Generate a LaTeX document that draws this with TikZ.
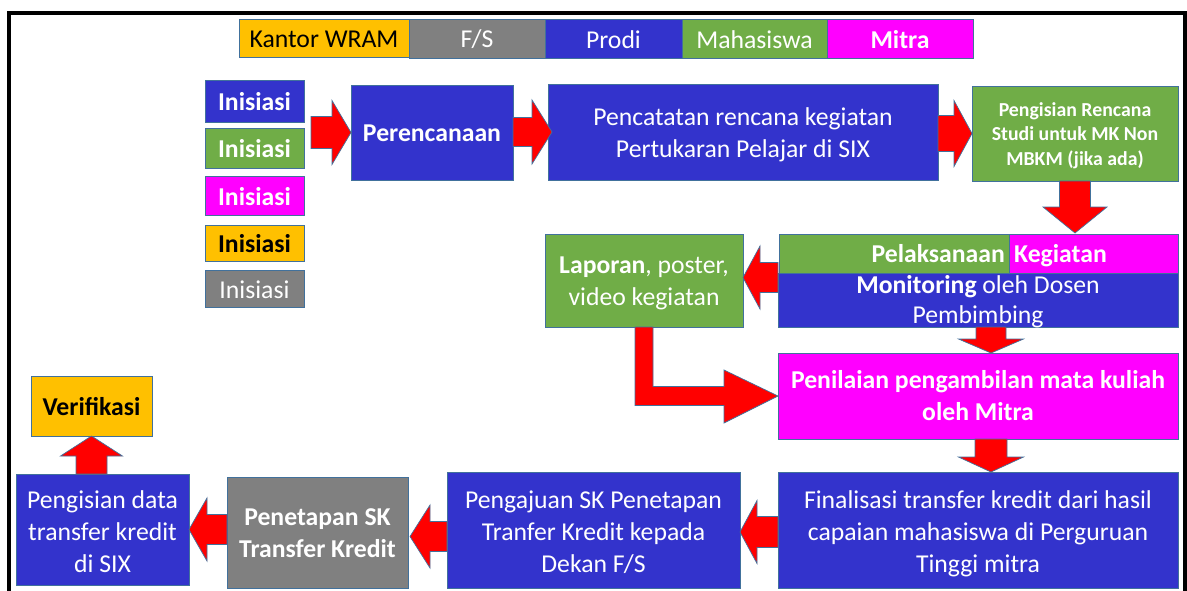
\documentclass[tikz,border=0pt]{standalone}
\usepackage{fontspec}
\setmainfont{Carlito}
\usetikzlibrary{calc}
\definecolor{cblue}{HTML}{3333CC}
\definecolor{cgreen}{HTML}{70AD47}
\definecolor{cmag}{HTML}{FF00FF}
\definecolor{corange}{HTML}{FFC000}
\definecolor{cgray}{HTML}{808080}
\definecolor{cedge}{HTML}{41719C}
\definecolor{cred}{HTML}{FF0000}
\tikzset{
  box/.style={draw=cedge, line width=0.9pt, inner sep=0pt, outer sep=0pt},
  txt/.style={align=center, text=white, inner sep=0pt, font=\fontsize{25.7}{32}\selectfont},
  dark/.style={text=black},
  small/.style={font=\fontsize{19.8}{24.5}\selectfont},
  wtxt/.style={text=white, inner sep=0pt, font=\fontsize{25.7}{32}\selectfont},
  arr/.style={fill=cred, draw=cedge, line width=0.7pt, line join=miter},
}
% box: name, fill, x1, y1, x2, y2, text style, text shift down, text
\newcommand\bx[9]{\node[box, fill=#2, minimum width={#5-#3}, minimum height={#6-#4}] (#1) at ({(#3+#5)/2},{(#4+#6)/2}) {};
  \node[txt, #7] (#1-t) at ($(#1.center)+(0,#8)$) {#9};}
% block arrows: start, tip, shaft half, head half, head length
\newcommand\arrR[5]{\draw[arr] let \p1=(#1),\p2=(#2) in (\x1,\y2+#3pt) -- (\x2-#5pt,\y2+#3pt) -- (\x2-#5pt,\y2+#4pt) -- (\x2,\y2) -- (\x2-#5pt,\y2-#4pt) -- (\x2-#5pt,\y2-#3pt) -- (\x1,\y2-#3pt) -- cycle;}
\newcommand\arrL[5]{\draw[arr] let \p1=(#1),\p2=(#2) in (\x1,\y2+#3pt) -- (\x2+#5pt,\y2+#3pt) -- (\x2+#5pt,\y2+#4pt) -- (\x2,\y2) -- (\x2+#5pt,\y2-#4pt) -- (\x2+#5pt,\y2-#3pt) -- (\x1,\y2-#3pt) -- cycle;}
\newcommand\arrD[5]{\draw[arr] let \p1=(#1),\p2=(#2) in (\x2-#3pt,\y1) -- (\x2-#3pt,\y2+#5pt) -- (\x2-#4pt,\y2+#5pt) -- (\x2,\y2) -- (\x2+#4pt,\y2+#5pt) -- (\x2+#3pt,\y2+#5pt) -- (\x2+#3pt,\y1) -- cycle;}
\newcommand\arrU[5]{\draw[arr] let \p1=(#1),\p2=(#2) in (\x2-#3pt,\y1) -- (\x2-#3pt,\y2-#5pt) -- (\x2-#4pt,\y2-#5pt) -- (\x2,\y2) -- (\x2+#4pt,\y2-#5pt) -- (\x2+#3pt,\y2-#5pt) -- (\x2+#3pt,\y1) -- cycle;}
\begin{document}
\begin{tikzpicture}[x=1pt,y=-1pt]
\useasboundingbox (0,0) rectangle (1187,590);
\fill[white] (0,0) rectangle (1187,590);
% frame
\draw[line width=4pt] (9,600) -- (9,13) -- (1185,13) -- (1185,600);
% legend
\bx{leg1}{corange}{239}{19}{409}{57}{dark}{1}{Kantor WRAM}
\bx{leg2}{cgray}{409}{19}{545}{58}{}{1}{F/S}
\bx{leg3}{cblue}{545}{19}{682}{58}{}{1}{Prodi}
\bx{leg4}{cgreen}{682}{19}{827}{58}{}{1}{Mahasiswa}
\bx{leg5}{cmag}{827}{19}{973}{58}{}{1}{\textbf{Mitra}}
% inisiasi
\bx{ini1}{cblue}{205}{80}{304}{122}{}{1}{\textbf{Inisiasi}}
\bx{ini2}{cgreen}{205}{128}{304}{168}{}{1}{\textbf{Inisiasi}}
\bx{ini3}{cmag}{205}{176}{304}{215}{}{1}{\textbf{Inisiasi}}
\bx{ini4}{corange}{205}{225}{304}{261}{dark}{1}{\textbf{Inisiasi}}
\bx{ini5}{cgray}{205}{270}{304}{307}{}{1}{Inisiasi}
% top row
\bx{per}{cblue}{351}{85}{513}{180}{}{1}{\textbf{Perencanaan}}
\bx{pct}{cblue}{548}{84}{938}{180}{}{3}{Pencatatan rencana kegiatan\\Pertukaran Pelajar di SIX}
\bx{pgr}{cgreen}{972}{86}{1178}{181}{small}{2}{\textbf{Pengisian Rencana}\\\textbf{Studi untuk MK Non}\\\textbf{MBKM (jika ada)}}
% pelaksanaan
\node[box, fill=cgreen, minimum width=230, minimum height=39] (pelG) at (894,253.5) {};
\node[box, fill=cmag, minimum width=169, minimum height=39] (pelM) at (1093.5,253.5) {};
\node[box, fill=cblue, minimum width=400, minimum height=54] (pelB) at (978,300) {};
\node[wtxt, anchor=base east] (t1) at (1005,262) {\textbf{Pelaksanaan}};
\node[wtxt, anchor=base west] (t2) at (1014,262) {\textbf{Kegiatan}};
\node[wtxt, anchor=base] (t3) at (978,293) {\textbf{Monitoring} oleh Dosen};
\node[wtxt, anchor=base] (t4) at (978,323) {Pembimbing};
\bx{lap}{cgreen}{545}{234}{743}{327}{}{3}{\textbf{Laporan}, poster,\\video kegiatan}
\bx{pen}{cmag}{778}{353}{1178}{439}{}{0}{\textbf{Penilaian pengambilan mata kuliah}\\\textbf{oleh Mitra}}
% bottom row
\bx{fin}{cblue}{778}{472}{1178}{588}{}{4}{Finalisasi transfer kredit dari hasil\\capaian mahasiswa di Perguruan\\Tinggi mitra}
\bx{pgj}{cblue}{447}{472}{740}{588}{}{2}{Pengajuan SK Penetapan\\Tranfer Kredit kepada\\Dekan F/S}
\bx{pnt}{cgray}{227}{477}{408}{588}{}{1}{\textbf{Penetapan SK}\\\textbf{Transfer Kredit}}
\bx{pgd}{cblue}{16}{474}{189}{585}{}{2}{Pengisian data\\transfer kredit\\di SIX}
\bx{ver}{corange}{31}{376}{152}{436}{dark}{1}{\textbf{Verifikasi}}
% arrows
\coordinate (iniout) at (311,130);
\arrR{iniout}{per.west}{16}{32}{19}
\arrR{per.east}{$(pct.west)+(4,0)$}{14.5}{32}{20}
\arrR{pct.east}{pgr.west}{18}{33}{18}
\arrD{pgr.south}{$(pgr.south |- pelM.north)+(0,-1)$}{15.5}{32}{26}
\arrL{pelB.west}{$(lap.east)+(0,-3)$}{15}{31.5}{17}
\arrD{pelB.south}{$(pen.north)+(13,0)$}{15}{32.5}{14}
\arrD{pen.south}{$(fin.north)+(13,0)$}{16}{32.5}{15}
\arrL{fin.west}{$(pgj.east)+(0,2)$}{15.5}{31.5}{17}
\arrL{pgj.west}{$(pnt.east)+(2,4)$}{15}{31.5}{20}
\arrL{pnt.west}{pgd.east}{15}{31.5}{18}
\arrU{$(ver.south |- pgd.north)$}{ver.south}{15.5}{31}{20}
% L-shaped arrow from laporan to penilaian
\draw[arr] let \p1=(lap.south), \p2=(pen.west) in
  (\x1-9pt,\y1) -- (\x1+9pt,\y1) -- (\x1+9pt,\y2+9.5pt) -- (\x2-54pt,\y2+9.5pt)
  -- (\x2-54pt,\y2+26pt) -- (\x2,\y2) -- (\x2-54pt,\y2-27pt) -- (\x2-54pt,\y2-9.5pt)
  -- (\x1-9pt,\y2-9.5pt) -- cycle;
\end{tikzpicture}
\end{document}
